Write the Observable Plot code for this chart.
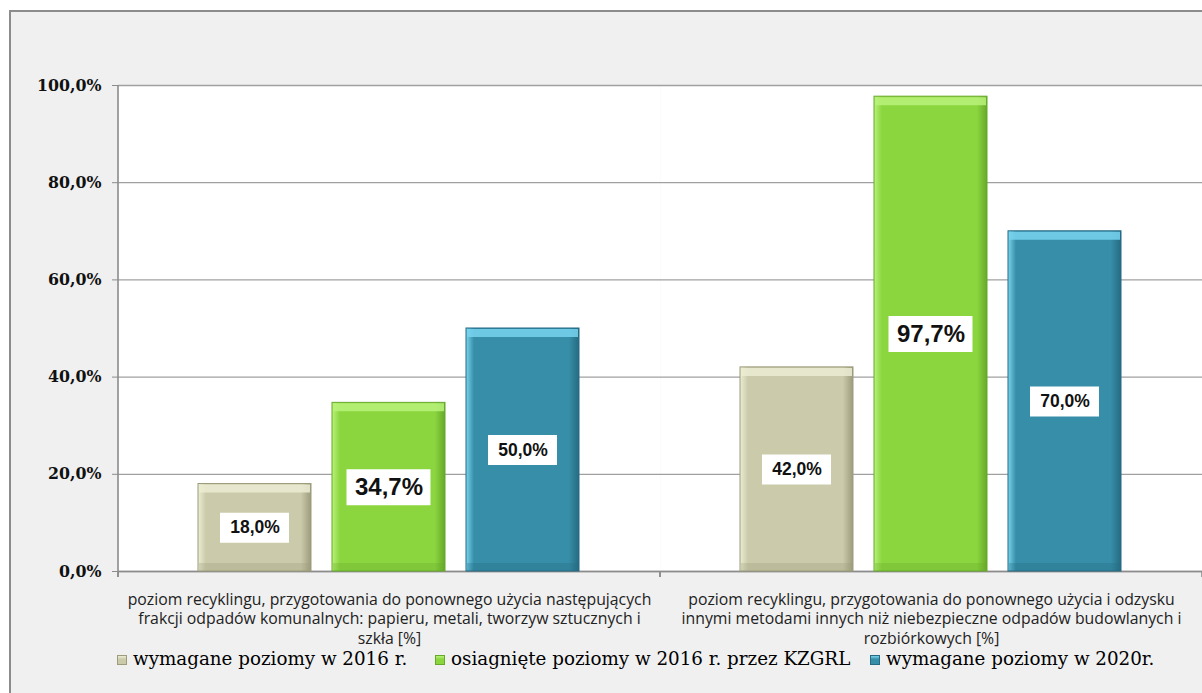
<!DOCTYPE html>
<html>
<head>
<meta charset="utf-8">
<script src="https://cdn.jsdelivr.net/npm/d3@7"></script>
<script src="https://cdn.jsdelivr.net/npm/@observablehq/plot@0.6"></script>
<style>
  html, body { margin: 0; padding: 0; background: #ffffff; }
  body { position: relative; width: 1202px; height: 693px; overflow: hidden; }
  #frame { position: absolute; left: 9px; top: 10px; width: 1300px; height: 800px;
           background: #f0f0f0; border: 2px solid #8c8c8c; box-sizing: border-box; }
  #chart { position: absolute; left: 0; top: 0; }
  #legend { position: absolute; left: 0; top: 645px; width: 1202px; height: 30px;
            font-family: "DejaVu Serif", serif; font-size: 18.3px; color: #000; }
  .item { position: absolute; top: 0; white-space: nowrap; line-height: 28px; }
  .swatch { display: inline-block; width: 10px; height: 10px; margin-right: 6px;
            vertical-align: 0px; box-sizing: border-box; }
</style>
</head>
<body>
<div id="frame"></div>
<div id="chart"></div>
<div id="legend"></div>
<script>
// ---- data ----
const categories = ["odpady komunalne", "odpady budowlane"];
const categoryLabels = [
  ["poziom recyklingu, przygotowania do ponownego użycia następujących",
   "frakcji odpadów komunalnych: papieru, metali, tworzyw sztucznych i",
   "szkła [%]"],
  ["poziom recyklingu, przygotowania do ponownego użycia i odzysku",
   "innymi metodami innych niż niebezpieczne odpadów budowlanych i",
   "rozbiórkowych [%]"]
];
const series = ["wymagane poziomy w 2016 r.", "osiagnięte poziomy w 2016 r. przez KZGRL", "wymagane poziomy w 2020r."];
const required2016 = [18.0, 42.0];
const achieved2016 = [34.7, 97.7];
const required2020 = [50.0, 70.0];
const yTicks = [0, 20, 40, 60, 80, 100];

// ---- styles ----
const baseColors = ["#cbcbab", "#8bd63f", "#378ea8"];
const lightColors = ["#ececd4", "#b9f27a", "#78d4ee"];
const darkColors = ["#9c9c7c", "#67a82a", "#256b82"];

const seriesValues = [required2016, achieved2016, required2020];
const rows = [];
categories.forEach((c, i) => {
  series.forEach((s, j) => {
    rows.push({cat: c, series: s, si: j, value: seriesValues[j][i]});
  });
});
const fmt = v => v.toFixed(1).replace(".", ",") + "%";
const big = rows.filter(d => d.si === 1);
const small = rows.filter(d => d.si !== 1);

const W = 1202, H = 660;
const plot = Plot.plot({
  width: W, height: H,
  marginLeft: 117, marginRight: 0, marginTop: 85, marginBottom: H - 571,
  style: {background: "transparent", fontFamily: "Liberation Sans, sans-serif", overflow: "visible"},
  fx: {domain: categories, padding: 0},
  x: {domain: series, paddingInner: 0.156, paddingOuter: 0.587, axis: null},
  y: {domain: [0, 100]},
  color: {type: "identity"},
  marks: [
    Plot.frame({fill: "white", stroke: null}),
    Plot.gridY({ticks: yTicks, stroke: "#a0a0a0", strokeOpacity: 1, strokeWidth: 1.3}),
    Plot.ruleY([0], {stroke: "#8c8c8c", strokeWidth: 1.6}),
    Plot.barY(rows, {fx: "cat", x: "series", y: "value", fill: d => baseColors[d.si],
      stroke: d => darkColors[d.si], strokeWidth: 1, className: "bars"}),
    Plot.tickY(rows, {fx: "cat", x: "series", y: "value", stroke: d => lightColors[d.si],
      strokeWidth: 8, dy: 4.5, insetLeft: 1, insetRight: 1, strokeOpacity: 0.85}),
    Plot.tickY(rows, {fx: "cat", x: "series", y: d => 0, stroke: d => darkColors[d.si],
      strokeWidth: 8, dy: -4.5, insetLeft: 1, insetRight: 1, strokeOpacity: 0.3}),
    Plot.tickY(small, {fx: "cat", x: "series", y: d => d.value / 2, stroke: "white",
      strokeWidth: 30, insetLeft: 22, insetRight: 22}),
    Plot.tickY(big, {fx: "cat", x: "series", y: d => d.value / 2, stroke: "white",
      strokeWidth: 36, insetLeft: 14.5, insetRight: 14.5}),
    Plot.text(small, {fx: "cat", x: "series", y: d => d.value / 2, text: d => fmt(d.value),
      fontSize: 17.5, fontWeight: "bold", fill: "#111", fontFamily: "Liberation Sans, Arial, sans-serif"}),
    Plot.text(big, {fx: "cat", x: "series", y: d => d.value / 2, text: d => fmt(d.value),
      fontSize: 24, fontWeight: "bold", fill: "#111", fontFamily: "Liberation Sans, Arial, sans-serif"}),
    Plot.axisY({ticks: yTicks, tickSize: 6, tickPadding: 11, stroke: "#8c8c8c",
      tickFormat: fmt, fontSize: 15.8, fontWeight: "bold", fontFamily: "DejaVu Serif, serif",
      fill: "#111", label: null}),
    Plot.axisFx({anchor: "bottom", tickSize: 0, tickPadding: 19, label: null,
      tickFormat: d => categoryLabels[categories.indexOf(d)].join("\n"),
      fontSize: 15.8, fontFamily: "Open Sans, sans-serif", fill: "#222", lineHeight: 1.25})
  ]
});
document.getElementById("chart").appendChild(plot);

// ---- axis lines & bar bevel gradients (post-processing via Plot's scales) ----
const svg = d3.select(plot);
const fxS = plot.scale("fx");
const yS = plot.scale("y");
const bw = fxS.bandwidth;
const x0 = fxS.apply(categories[0]);
const y0 = yS.apply(0), y100 = yS.apply(100);
const g = svg.append("g").attr("stroke", "#8c8c8c").attr("stroke-width", 1.6);
g.append("line").attr("x1", x0).attr("x2", x0).attr("y1", y100).attr("y2", y0 + 6);
categories.forEach(c => {
  const xl = fxS.apply(c);
  g.append("line").attr("x1", xl).attr("x2", xl).attr("y1", y0).attr("y2", y0 + 6);
  g.append("line").attr("x1", xl + bw).attr("x2", xl + bw).attr("y1", y0).attr("y2", y0 + 6);
});

const defs = svg.insert("defs", ":first-child");
baseColors.forEach((c, i) => {
  const lg = defs.append("linearGradient").attr("id", "bev" + i)
    .attr("x1", "0%").attr("x2", "100%").attr("y1", "0%").attr("y2", "0%");
  lg.append("stop").attr("offset", "0%").attr("stop-color", lightColors[i]);
  lg.append("stop").attr("offset", "7%").attr("stop-color", c);
  lg.append("stop").attr("offset", "91%").attr("stop-color", c);
  lg.append("stop").attr("offset", "100%").attr("stop-color", darkColors[i]);
});
svg.selectAll("g.bars rect").each(function() {
  const f = (this.getAttribute("fill") || "").toLowerCase();
  const i = baseColors.indexOf(f);
  if (i >= 0) this.setAttribute("fill", "url(#bev" + i + ")");
});

// ---- legend ----
const legendX = [117, 435, 870];
const legend = d3.select("#legend");
series.forEach((s, i) => {
  const it = legend.append("div").attr("class", "item").style("left", legendX[i] + "px");
  it.append("span").attr("class", "swatch")
    .style("background", `linear-gradient(${lightColors[i]}, ${baseColors[i]} 40%, ${baseColors[i]})`)
    .style("border", `1px solid ${darkColors[i]}`);
  it.append("span").text(s);
});
</script>
</body>
</html>
